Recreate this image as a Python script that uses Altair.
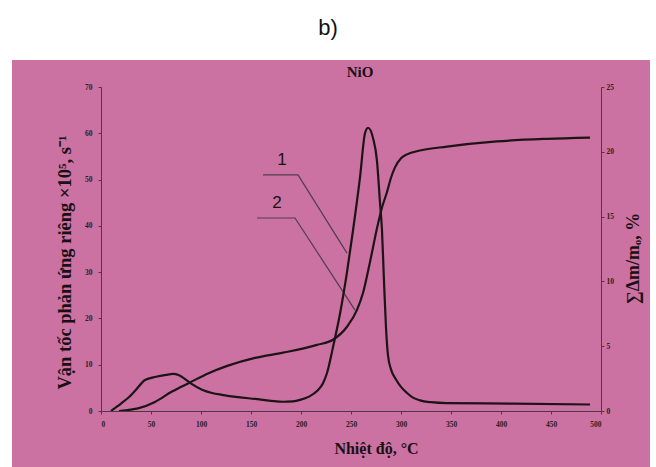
import altair as alt
import pandas as pd

# Curve 1: reaction rate (left axis)
t1 = [10, 20, 27, 35, 44, 55, 65, 72, 78, 84, 91, 101, 111, 121, 137, 154, 170, 182, 192, 199,
      208, 216, 222, 226, 232, 239, 246, 252, 259, 264, 267, 272, 276, 279, 281, 283, 285, 287,
      290, 295, 300, 306, 312, 319, 330, 346, 412, 489]
v1 = [0, 1.6, 2.8, 4.6, 6.7, 7.4, 7.8, 8.0, 7.7, 6.9, 5.8, 4.6, 3.9, 3.5, 3.0, 2.6, 2.2, 2.0, 2.1, 2.4,
      3.1, 4.3, 6.0, 8.2, 13.8, 21.0, 30.0, 39.0, 50.5, 60.0, 61.2, 59.0, 54.0, 45.0, 39.0, 28.0, 18.0, 12.0,
      9.0, 6.8, 5.2, 3.9, 2.9, 2.3, 1.9, 1.7, 1.6, 1.4]

# Curve 2: cumulative mass loss (right axis)
t2 = [18, 30, 37, 54, 71, 89, 107, 127, 154, 182, 216, 232, 246, 256, 262, 269, 276, 281, 286, 290,
      294, 300, 306, 319, 346, 396, 446, 489]
v2 = [0, 0.1, 0.2, 0.7, 1.5, 2.2, 2.9, 3.5, 4.1, 4.5, 5.1, 5.5, 6.5, 7.8, 9.1, 11.5, 14.1, 15.7, 16.9, 18.0,
      18.8, 19.5, 19.8, 20.1, 20.4, 20.8, 21.0, 21.1]

# Leader lines for labels "1" and "2" (in left-axis data units)
lead_group = ["1", "1", "1", "2", "2", "2"]
lead_order = [0, 1, 2, 0, 1, 2]
lead_t = [162, 197, 246, 156, 194, 254]
lead_v = [51.0, 51.0, 34.1, 41.7, 41.7, 21.8]
label_text = ["1", "2"]
label_t = [181, 176]
label_v = [54.2, 44.9]

x_ticks = [0, 50, 100, 150, 200, 250, 300, 350, 400, 450, 500]
yl_ticks = [0, 10, 20, 30, 40, 50, 60, 70]
yr_ticks = [0, 5, 10, 15, 20, 25]

df1 = pd.DataFrame({"T": t1, "V": v1})
df2 = pd.DataFrame({"T": t2, "M": v2})
dlead = pd.DataFrame({"g": lead_group, "o": lead_order, "T": lead_t, "V": lead_v})
dlab = pd.DataFrame({"txt": label_text, "T": label_t, "V": label_v})
one = pd.DataFrame({"a": [0]})

PINK = "#cb72a2"
INK = "#1c1416"
AX = "#4a3a44"
SERIF = "Liberation Serif"

xscale = alt.Scale(domain=[0, 500], nice=False)
xaxis = alt.Axis(values=x_ticks, title="Nhiệt độ, °C", grid=False, zindex=1,
                 labelFont=SERIF, labelFontWeight="bold", labelFontSize=7.5, labelColor="#2a2026",
                 tickSize=3, tickColor=AX, domainColor=AX, labelPadding=6,
                 titleFont=SERIF, titleFontWeight="bold", titleFontSize=16, titleColor="#1a1014",
                 titlePadding=13, titleX=275)
ylscale = alt.Scale(domain=[0, 70], nice=False)
ylaxis = alt.Axis(values=yl_ticks, orient="left", grid=False, zindex=1,
                  title="Vận tốc phản ứng riêng ×10⁵, s⁻¹",
                  labelFont=SERIF, labelFontWeight="bold", labelFontSize=7.5, labelColor="#2a2026",
                  tickSize=3, tickColor=AX, domainColor=AX, labelPadding=6,
                  titleFont=SERIF, titleFontWeight="bold", titleFontSize=18.5, titleColor="#1a1014",
                  titlePadding=10, titleY=175)
yrscale = alt.Scale(domain=[0, 25], nice=False)
yraxis = alt.Axis(values=yr_ticks, orient="right", grid=False, zindex=1,
                  title="∑Δm/mₒ, %", titleAngle=270,
                  labelFont=SERIF, labelFontWeight="bold", labelFontSize=7.5, labelColor="#2a2026",
                  tickSize=3, tickColor=AX, domainColor=AX, labelPadding=2,
                  titleFont=SERIF, titleFontWeight="bold", titleFontSize=18, titleColor="#1a1014",
                  titlePadding=29, titleY=171)

bg = alt.Chart(one).mark_rect(color=PINK).encode(
    x=alt.value(-89), x2=alt.value(549), y=alt.value(-27), y2=alt.value(380))

curve1 = alt.Chart(df1).mark_line(color=INK, strokeWidth=2.2, interpolate="monotone").encode(
    x=alt.X("T:Q", scale=xscale, axis=xaxis),
    y=alt.Y("V:Q", scale=ylscale, axis=ylaxis))

leaders = alt.Chart(dlead).mark_line(color="#4d4048", strokeWidth=1.2).encode(
    x=alt.X("T:Q", scale=xscale),
    y=alt.Y("V:Q", scale=ylscale),
    detail="g:N", order="o:Q")

labels = alt.Chart(dlab).mark_text(font="Liberation Sans", fontSize=17, color="#1a1014").encode(
    x=alt.X("T:Q", scale=xscale),
    y=alt.Y("V:Q", scale=ylscale),
    text="txt:N")

title_b = alt.Chart(one).mark_text(text="b)", font="Liberation Sans", fontSize=22,
                                    color="#111111", baseline="middle").encode(
    x=alt.value(227), y=alt.value(-59))

title_nio = alt.Chart(one).mark_text(text="NiO", font=SERIF, fontWeight="bold", fontSize=15,
                                      color="#1a1014", baseline="middle").encode(
    x=alt.value(259), y=alt.value(-15))

left = alt.layer(bg, title_b, title_nio, leaders, labels, curve1)

curve2 = alt.Chart(df2).mark_line(color=INK, strokeWidth=2.2, interpolate="monotone").encode(
    x=alt.X("T:Q", scale=xscale, axis=xaxis),
    y=alt.Y("M:Q", scale=yrscale, axis=yraxis))

chart = alt.layer(left, curve2).resolve_scale(y="independent").properties(
    width=500, height=324,
    padding={"left": 101, "top": 87, "right": 55, "bottom": 56},
    autosize=alt.AutoSizeParams(type="none"),
    background="white",
).configure_view(stroke=None)

chart.save("out.html", embed_options={"renderer": "svg", "actions": False})
